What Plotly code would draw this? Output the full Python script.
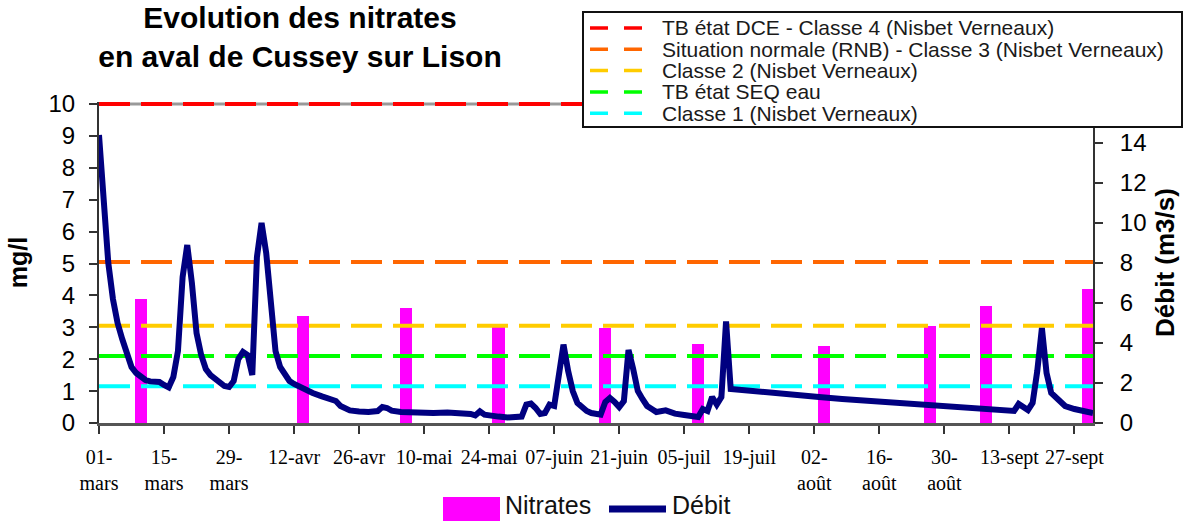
import plotly.graph_objects as go

# ---------------- data ----------------
x_range = ["2009-03-01", "2009-10-01"]

tick_dates = ["2009-03-01", "2009-03-15", "2009-03-29", "2009-04-12", "2009-04-26",
              "2009-05-10", "2009-05-24", "2009-06-07", "2009-06-21", "2009-07-05",
              "2009-07-19", "2009-08-02", "2009-08-16", "2009-08-30", "2009-09-13",
              "2009-09-27"]
tick_labels = ["01-<br>mars", "15-<br>mars", "29-<br>mars", "12-avr", "26-avr",
               "10-mai", "24-mai", "07-juin", "21-juin", "05-juil",
               "19-juil", "02-<br>août", "16-<br>août", "30-<br>août", "13-sept",
               "27-sept"]

nitrate_dates = ["2009-03-10", "2009-04-14", "2009-05-06", "2009-05-26", "2009-06-18",
                 "2009-07-08", "2009-08-04", "2009-08-27", "2009-09-08", "2009-09-30"]
nitrate_values = [3.9, 3.37, 3.6, 3.05, 2.98, 2.48, 2.4, 3.05, 3.68, 4.2]

debit_dates = [
    "2009-03-01", "2009-03-02", "2009-03-03", "2009-03-04", "2009-03-05", "2009-03-06",
    "2009-03-07", "2009-03-08", "2009-03-09", "2009-03-10", "2009-03-11", "2009-03-12",
    "2009-03-13", "2009-03-14", "2009-03-15", "2009-03-16", "2009-03-17", "2009-03-18",
    "2009-03-19", "2009-03-20", "2009-03-21", "2009-03-22", "2009-03-23", "2009-03-24",
    "2009-03-25", "2009-03-26", "2009-03-27", "2009-03-28", "2009-03-29", "2009-03-30",
    "2009-03-31", "2009-04-01", "2009-04-02", "2009-04-03", "2009-04-04", "2009-04-05",
    "2009-04-06", "2009-04-07", "2009-04-08", "2009-04-09", "2009-04-10", "2009-04-11",
    "2009-04-12", "2009-04-14", "2009-04-16", "2009-04-18", "2009-04-20", "2009-04-21",
    "2009-04-22", "2009-04-23", "2009-04-24", "2009-04-26", "2009-04-28", "2009-04-30",
    "2009-05-01", "2009-05-02", "2009-05-03", "2009-05-05", "2009-05-07", "2009-05-09",
    "2009-05-12", "2009-05-15", "2009-05-18", "2009-05-20", "2009-05-21", "2009-05-22",
    "2009-05-23", "2009-05-24", "2009-05-26", "2009-05-28", "2009-05-30", "2009-05-31",
    "2009-06-01", "2009-06-02", "2009-06-03", "2009-06-04", "2009-06-05", "2009-06-06",
    "2009-06-07", "2009-06-08", "2009-06-09", "2009-06-10", "2009-06-11", "2009-06-12",
    "2009-06-13", "2009-06-14", "2009-06-15", "2009-06-16", "2009-06-17", "2009-06-18",
    "2009-06-19", "2009-06-20", "2009-06-21", "2009-06-22", "2009-06-23", "2009-06-24",
    "2009-06-25", "2009-06-26", "2009-06-27", "2009-06-28", "2009-06-29", "2009-07-01",
    "2009-07-02", "2009-07-03", "2009-07-05", "2009-07-07", "2009-07-08", "2009-07-09",
    "2009-07-10", "2009-07-11", "2009-07-12", "2009-07-13", "2009-07-14", "2009-07-15",
    "2009-07-17", "2009-07-19", "2009-07-24", "2009-07-29", "2009-08-03", "2009-08-08",
    "2009-08-13", "2009-08-18", "2009-08-23", "2009-08-28", "2009-09-02", "2009-09-07",
    "2009-09-12", "2009-09-14", "2009-09-15", "2009-09-17", "2009-09-18", "2009-09-19",
    "2009-09-20", "2009-09-21", "2009-09-22", "2009-09-23", "2009-09-24", "2009-09-25",
    "2009-09-27", "2009-09-29", "2009-10-01"]
debit_values = [
    14.4, 11.0, 8.0, 6.2, 5.0, 4.2,
    3.4, 2.8, 2.5, 2.3, 2.15, 2.08,
    2.05, 2.05, 1.9, 1.78, 2.3, 3.6,
    7.3, 8.9, 7.0, 4.5, 3.4, 2.7,
    2.4, 2.2, 2.0, 1.85, 1.8, 2.1,
    3.2, 3.55, 3.4, 2.4, 8.3, 10.0,
    8.5, 5.9, 3.6, 2.8, 2.4, 2.1,
    1.95, 1.7, 1.5, 1.33, 1.17, 1.1,
    0.85, 0.72, 0.63, 0.58, 0.55, 0.6,
    0.8, 0.75, 0.62, 0.55, 0.52, 0.5,
    0.5, 0.52, 0.5, 0.45, 0.38, 0.58,
    0.42, 0.37, 0.32, 0.28, 0.3, 0.32,
    0.92, 0.97, 0.75, 0.45, 0.5, 0.92,
    0.85, 2.5, 3.92, 2.6, 1.6, 1.0,
    0.8, 0.6, 0.5, 0.45, 0.42, 1.05,
    1.25, 1.05, 0.8, 1.1, 3.65, 2.7,
    1.6, 1.2, 0.85, 0.7, 0.55, 0.63,
    0.55, 0.47, 0.4, 0.32, 0.3, 0.7,
    0.6, 1.3, 0.92, 1.3, 5.08, 1.7,
    1.65, 1.62, 1.5, 1.4, 1.3, 1.2,
    1.12, 1.05, 0.97, 0.9, 0.82, 0.75,
    0.65, 0.6, 0.95, 0.65, 1.0, 2.6,
    4.75, 2.5, 1.5, 1.25, 1.0, 0.85,
    0.7, 0.6, 0.5]

threshold_names = ["TB état DCE - Classe 4 (Nisbet Verneaux)",
                   "Situation normale (RNB) - Classe 3 (Nisbet Verneaux)",
                   "Classe 2 (Nisbet Verneaux)",
                   "TB état SEQ eau",
                   "Classe 1 (Nisbet Verneaux)"]
threshold_values = [10, 5.05, 3.05, 2.1, 1.15]
threshold_colors = ["#FF0000", "#FF6600", "#FFCC00", "#00FF00", "#00FFFF"]

# ---------------- layout geometry helpers (page pixels -> paper) ----------------
W, H = 1189, 521
ML, MR, MT, MB = 99, 96, 102, 98
PW, PH = W - ML - MR, H - MT - MB          # PH = 321 px
Y_TOP = 10 + 2 / 31.9                      # a little headroom so the line at 10 is not clipped
Y2_TOP = PH / 20.0                         # 20 px per m3/s on the right axis


def px(xp):
    return (xp - ML) / PW


def py(yp):
    return (H - MB - yp) / PH


SANS = "Liberation Sans, Arial, sans-serif"
SERIF = "Liberation Serif, Times New Roman, serif"
BAR_W_MS = 2.6 * 86400000

fig = go.Figure()

fig.add_trace(go.Bar(
    x=nitrate_dates, y=nitrate_values, name="Nitrates",
    marker=dict(color="#FF00FF", line=dict(width=0)),
    width=BAR_W_MS, yaxis="y", showlegend=False))

for name, val, col in zip(threshold_names, threshold_values, threshold_colors):
    fig.add_trace(go.Scatter(
        x=x_range, y=[val, val], mode="lines", name=name,
        line=dict(color=col, width=4, dash="31px,11px"),
        yaxis="y", showlegend=False, hoverinfo="skip"))

fig.add_trace(go.Scatter(
    x=debit_dates, y=debit_values, mode="lines", name="Débit",
    line=dict(color="#000080", width=6), yaxis="y2", showlegend=False))

shapes = []
# grey top border line at 10
shapes.append(dict(type="line", xref="paper", yref="y", x0=0, x1=1, y0=10, y1=10,
                   line=dict(color="#999999", width=3), layer="below"))
# threshold legend box
shapes.append(dict(type="rect", xref="paper", yref="paper",
                   x0=px(583), x1=px(1182), y0=py(127), y1=py(12),
                   line=dict(color="#111111", width=2), fillcolor="white", layer="above"))
annotations = []
for i, (name, col) in enumerate(zip(threshold_names, threshold_colors)):
    yc = 28 + i * 21.3
    shapes.append(dict(type="line", xref="paper", yref="paper",
                       x0=px(590), x1=px(643), y0=py(yc), y1=py(yc),
                       line=dict(color=col, width=3.5, dash="18px,16px"), layer="above"))
    annotations.append(dict(x=px(660), y=py(yc), xref="paper", yref="paper",
                            text=name, showarrow=False, xanchor="left", yanchor="middle",
                            font=dict(family=SANS, size=21, color="#1a1a1a")))

# bottom legend (Nitrates / Débit)
shapes.append(dict(type="rect", xref="paper", yref="paper",
                   x0=px(443), x1=px(500), y0=py(521), y1=py(497),
                   line=dict(width=0), fillcolor="#FF00FF", layer="above"))
shapes.append(dict(type="line", xref="paper", yref="paper",
                   x0=px(609), x1=px(666), y0=py(509), y1=py(509),
                   line=dict(color="#000080", width=7), layer="above"))
annotations.append(dict(x=px(503), y=py(521), xref="paper", yref="paper", text="Nitrates",
                        showarrow=False, xanchor="left", yanchor="bottom",
                        font=dict(family=SANS, size=25, color="#111111")))
annotations.append(dict(x=px(670), y=py(521), xref="paper", yref="paper", text="Débit",
                        showarrow=False, xanchor="left", yanchor="bottom",
                        font=dict(family=SANS, size=25, color="#111111")))

fig.update_layout(
    width=W, height=H,
    margin=dict(l=ML, r=MR, t=MT, b=MB, autoexpand=False),
    paper_bgcolor="white", plot_bgcolor="white",
    showlegend=False,
    bargap=0,
    title=dict(text="<b>Evolution des nitrates<br>en aval de Cussey sur Lison</b>",
               x=300 / W, xanchor="center", xref="container",
               y=1 - 28 / H, yanchor="top", yref="container",
               font=dict(family=SANS, size=30, color="black")),
    xaxis=dict(type="date", range=x_range, tickmode="array",
               tickvals=tick_dates, ticktext=tick_labels,
               tickangle=0, ticks="outside", ticklen=8, tickwidth=1.5, tickcolor="#333",
               ticklabelstandoff=6,
               showline=True, linecolor="#555", linewidth=3,
               showgrid=False, zeroline=False,
               tickfont=dict(family=SERIF, size=20, color="black")),
    yaxis=dict(range=[0, Y_TOP], tickmode="array", tickvals=list(range(0, 11)),
               ticks="outside", ticklen=8, tickwidth=1.5,
               tickcolor="#333", showline=True, linecolor="#333", linewidth=2,
               showgrid=False, zeroline=False, ticklabelstandoff=9,
               tickfont=dict(family=SANS, size=24, color="black"),
               title=dict(text="<b>mg/l</b>", standoff=14,
                          font=dict(family=SANS, size=25, color="black"))),
    yaxis2=dict(range=[0, Y2_TOP], dtick=2, overlaying="y", side="right",
                ticks="outside", ticklen=8, tickwidth=1.5, tickcolor="#333",
                showline=True, linecolor="#333", linewidth=2,
                showgrid=False, zeroline=False, ticklabelstandoff=12,
                tickfont=dict(family=SANS, size=24, color="black"),
                title=dict(text="<b>Débit (m3/s)</b>", standoff=10,
                           font=dict(family=SANS, size=26, color="black"))),
    shapes=shapes,
    annotations=annotations,
)

fig.write_html("out.html", config={"displayModeBar": False},
               post_script="document.body.style.margin='0';document.body.style.overflow='hidden';")
